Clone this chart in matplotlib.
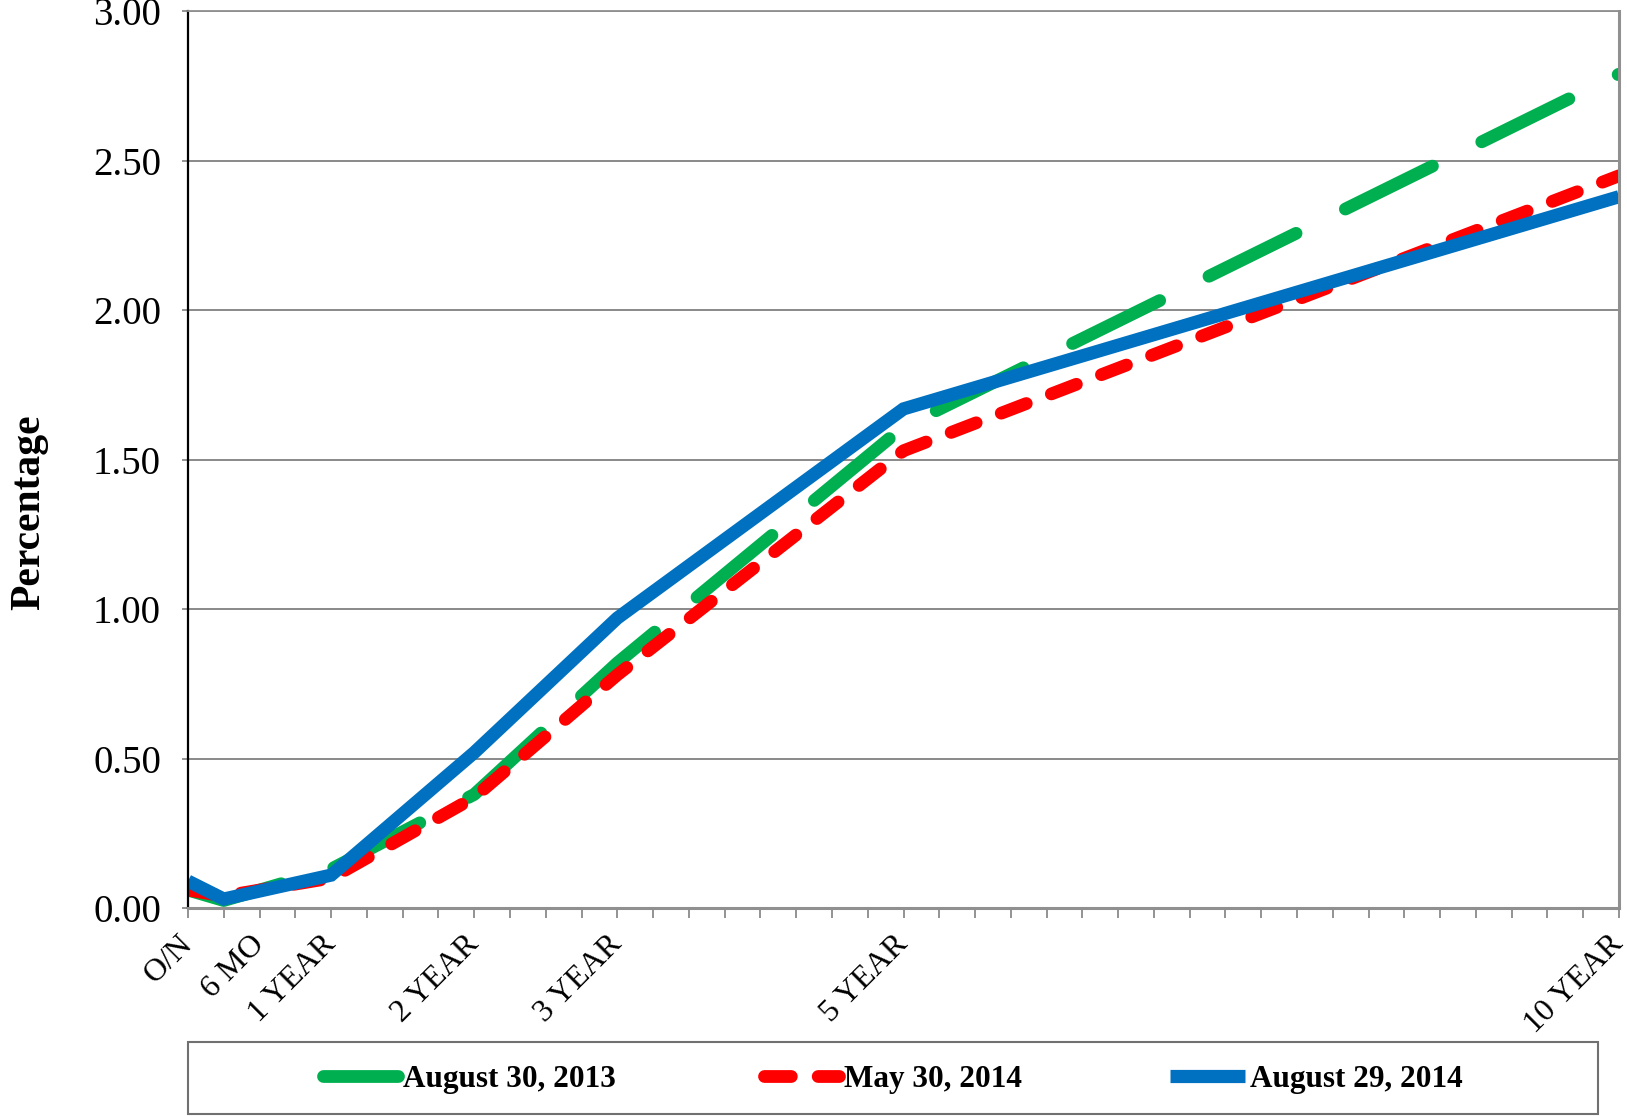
import numpy as np
import matplotlib.pyplot as plt
import matplotlib.transforms as mtransforms
from matplotlib.patches import Rectangle

# =====================================================
# DATA (yield curve, percentage)
# =====================================================
tenor_labels = ['O/N', '6 MO', '1 YEAR', '2 YEAR', '3 YEAR', '5 YEAR', '10 YEAR']
tenor_slot = [0, 1, 4, 8, 12, 20, 40]   # category slot (quarters) on the x axis
n_slots = 41

aug_2013 = [0.06, 0.025, 0.13, 0.38, 0.82, 1.61, 2.79]
may_2014 = [0.06, 0.04, 0.10, 0.37, 0.78, 1.53, 2.45]
aug_2014 = [0.09, 0.03, 0.11, 0.52, 0.97, 1.67, 2.38]

series_names = ['August 30, 2013', 'May 30, 2014', 'August 29, 2014']

# =====================================================
# PLOT
# =====================================================
plt.rcParams['font.family'] = ['Liberation Serif', 'DejaVu Serif']

W, H = 1627, 1116
fig = plt.figure(figsize=(W / 100, H / 100), dpi=100)
ax = fig.add_axes([188 / W, 1 - 908 / H, (1619 - 188) / W, (908 - 11.4) / H])

lw = 9.2
l1, = ax.plot(tenor_slot, aug_2013, color='#00B050', lw=lw, linestyle=(0, (7.6, 4.3)),
              dash_capstyle='round', solid_capstyle='round', label=series_names[0])
l2, = ax.plot(tenor_slot, may_2014, color='#FF0000', lw=lw, linestyle=(0, (2.1, 2.1)),
              dash_capstyle='round', solid_capstyle='round', label=series_names[1])
l3, = ax.plot(tenor_slot, aug_2014, color='#0070C0', lw=lw + 0.3,
              solid_capstyle='butt', solid_joinstyle='miter', label=series_names[2])

ax.set_xlim(0, n_slots - 1)
ax.set_ylim(0, 3)

# y axis
yt = np.arange(0, 3.01, 0.5)
ax.set_yticks(yt)
ax.set_yticklabels(['%.2f' % v for v in yt])
ax.yaxis.grid(True, color='#808080', lw=1.3)
ax.set_axisbelow(True)

# x axis: ticks at every slot, labels only at tenors
xlabels = [''] * n_slots
for s, t in zip(tenor_slot, tenor_labels):
    xlabels[s] = t
ax.set_xticks(range(n_slots))
ax.set_xticklabels(xlabels, rotation=45, ha='right', va='center', rotation_mode='anchor')

ax.tick_params(axis='y', labelsize=28, direction='out', length=4.5, width=1.2,
               color='#808080', pad=15)
ax.tick_params(axis='x', labelsize=23, direction='out', length=7, width=1.2,
               color='#808080', pad=16)

# Excel nudged the "6 MO" label to the right so it clears "O/N"
for lab in ax.get_xticklabels():
    if lab.get_text() == '6 MO':
        lab.set_transform(lab.get_transform() +
                          mtransforms.ScaledTranslation(0.36, 0, fig.dpi_scale_trans))

ax.spines['left'].set_color('black')
ax.spines['left'].set_linewidth(1.6)
for side in ['bottom', 'right', 'top']:
    ax.spines[side].set_color('#909090')
    ax.spines[side].set_linewidth(2.2)
ax.spines['top'].set_linewidth(1.3)

fig.text(29 / W, 1 - 512 / H, 'Percentage', rotation=90, ha='center', va='center',
         fontsize=30, fontweight='bold')

# =====================================================
# LEGEND (boxed, below the chart)
# =====================================================
box = Rectangle((188 / W, 1 - 1114 / H), (1598 - 188) / W, (1114 - 1042) / H,
                transform=fig.transFigure, fill=False, edgecolor='#707070', lw=1.5)
fig.patches.append(box)

fig.legend(handles=[l1, l2, l3], loc='center', ncol=3, frameon=False,
           bbox_to_anchor=((188 + 1598) / 2 / W, 1 - 1079 / H),
           prop={'size': 22.5, 'weight': 'bold'}, handlelength=2.4,
           handletextpad=0.15, columnspacing=4.75)

plt.savefig('out.png', dpi=100)
